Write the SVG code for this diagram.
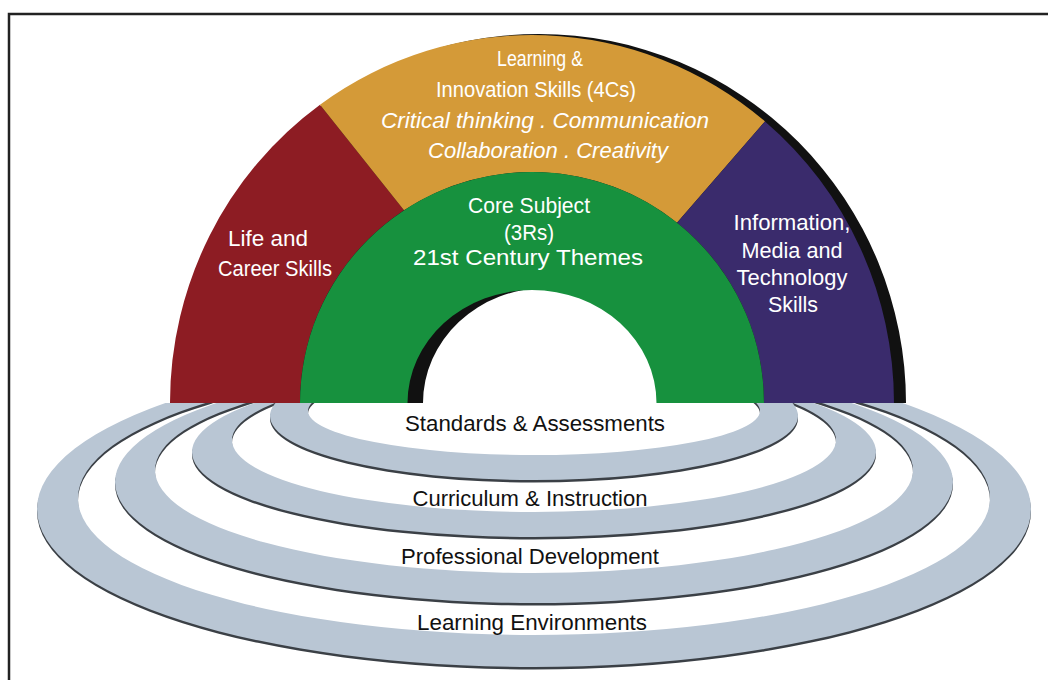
<svg xmlns="http://www.w3.org/2000/svg" width="1048" height="680" viewBox="0 0 1048 680">
<style>
  .w{font-family:"Liberation Sans",Arial,sans-serif;font-size:22px;fill:#fff;text-anchor:middle}
  .it{font-style:italic}
  .b{font-family:"Liberation Sans",Arial,sans-serif;font-size:22px;fill:#111;text-anchor:middle}
  .band{fill:#b9c6d4;fill-rule:evenodd}
  .rim{fill:#3b4046;fill-rule:evenodd}
</style>
<defs>
  <clipPath id="below"><rect x="0" y="403" width="1048" height="277"/></clipPath>
  <path id="r4" d="M37,509 A497,158 0 1 0 1031,509 A497,158 0 1 0 37,509 Z M78,498 A456,137 0 1 0 990,498 A456,137 0 1 0 78,498 Z"/>
  <path id="r3" d="M115,482 A419,121 0 1 0 953,482 A419,121 0 1 0 115,482 Z M155,470 A379,103 0 1 0 913,470 A379,103 0 1 0 155,470 Z"/>
  <path id="r2" d="M192,452 A342,85 0 1 0 876,452 A342,85 0 1 0 192,452 Z M232,440 A302,72 0 1 0 836,440 A302,72 0 1 0 232,440 Z"/>
  <path id="r1" d="M270,416 A264,64 0 1 0 798,416 A264,64 0 1 0 270,416 Z M308,411 A226,44 0 1 0 760,411 A226,44 0 1 0 308,411 Z"/>
</defs>
<rect width="1048" height="680" fill="#fff"/>
<rect x="9" y="14" width="1100" height="700" fill="none" stroke="#222" stroke-width="2.5"/>

<g id="rings" clip-path="url(#below)">
  <g id="learning-environments">
    <use href="#r4" class="rim" transform="translate(0,2.5)"/>
    <use href="#r4" class="band"/>
  </g>
  <g id="professional-development">
    <use href="#r3" class="rim" transform="translate(0,2.5)"/>
    <use href="#r3" class="band"/>
  </g>
  <g id="curriculum-instruction">
    <use href="#r2" class="rim" transform="translate(0,2.5)"/>
    <use href="#r2" class="band"/>
  </g>
  <g id="standards-assessments">
    <use href="#r1" class="rim" transform="translate(0,2.5)"/>
    <use href="#r1" class="band"/>
  </g>
</g>

<g id="ring-labels">
  <text class="b" x="535" y="431" textLength="260" lengthAdjust="spacingAndGlyphs">Standards &amp; Assessments</text>
  <text class="b" x="530" y="506" textLength="235" lengthAdjust="spacingAndGlyphs">Curriculum &amp; Instruction</text>
  <text class="b" x="530" y="564" textLength="258" lengthAdjust="spacingAndGlyphs">Professional Development</text>
  <text class="b" x="532" y="630" textLength="230" lengthAdjust="spacingAndGlyphs">Learning Environments</text>
</g>

<g id="arch-depth">
  <path d="M172,403 A367,369 0 0 1 906,403 L669,403 A123,115 0 0 0 423,403 Z" fill="#111"/>
</g>

<g id="life-career">
  <path d="M170,403 A362,368 0 0 1 320,104.7 L404,210.3 A232,231 0 0 0 300,403 Z" fill="#8d1c23"/>
  <text class="w" x="268" y="246" textLength="80" lengthAdjust="spacingAndGlyphs">Life and</text>
  <text class="w" x="275" y="276" textLength="114" lengthAdjust="spacingAndGlyphs">Career Skills</text>
</g>

<g id="learning-innovation">
  <path d="M320,104.7 A362,368 0 0 1 765,121.4 L677,222.7 A232,231 0 0 0 404,210.3 Z" fill="#d49a38"/>
  <text class="w" x="540" y="66" textLength="86" lengthAdjust="spacingAndGlyphs">Learning &amp;</text>
  <text class="w" x="536" y="97" textLength="200" lengthAdjust="spacingAndGlyphs">Innovation Skills (4Cs)</text>
  <text class="w it" x="545" y="128" textLength="328" lengthAdjust="spacingAndGlyphs">Critical thinking . Communication</text>
  <text class="w it" x="548" y="158" textLength="240" lengthAdjust="spacingAndGlyphs">Collaboration . Creativity</text>
</g>

<g id="information-media">
  <path d="M765,121.4 A362,368 0 0 1 894,403 L764,403 A232,231 0 0 0 677,222.7 Z" fill="#3a2b6c"/>
  <text class="w" x="792" y="230" textLength="117" lengthAdjust="spacingAndGlyphs">Information,</text>
  <text class="w" x="792" y="258" textLength="101" lengthAdjust="spacingAndGlyphs">Media and</text>
  <text class="w" x="792" y="285" textLength="111" lengthAdjust="spacingAndGlyphs">Technology</text>
  <text class="w" x="793" y="312" textLength="50" lengthAdjust="spacingAndGlyphs">Skills</text>
</g>

<g id="core-subject">
  <path d="M300,403 A232,231 0 0 1 764,403 L656.5,403 A124.5,113 0 0 0 407.5,403 Z" fill="#17913e"/>
  <text class="w" x="529" y="213" textLength="122" lengthAdjust="spacingAndGlyphs">Core Subject</text>
  <text class="w" x="529" y="240" textLength="50" lengthAdjust="spacingAndGlyphs">(3Rs)</text>
  <text class="w" x="528" y="265" textLength="230" lengthAdjust="spacingAndGlyphs">21st Century Themes</text>
</g>
</svg>
